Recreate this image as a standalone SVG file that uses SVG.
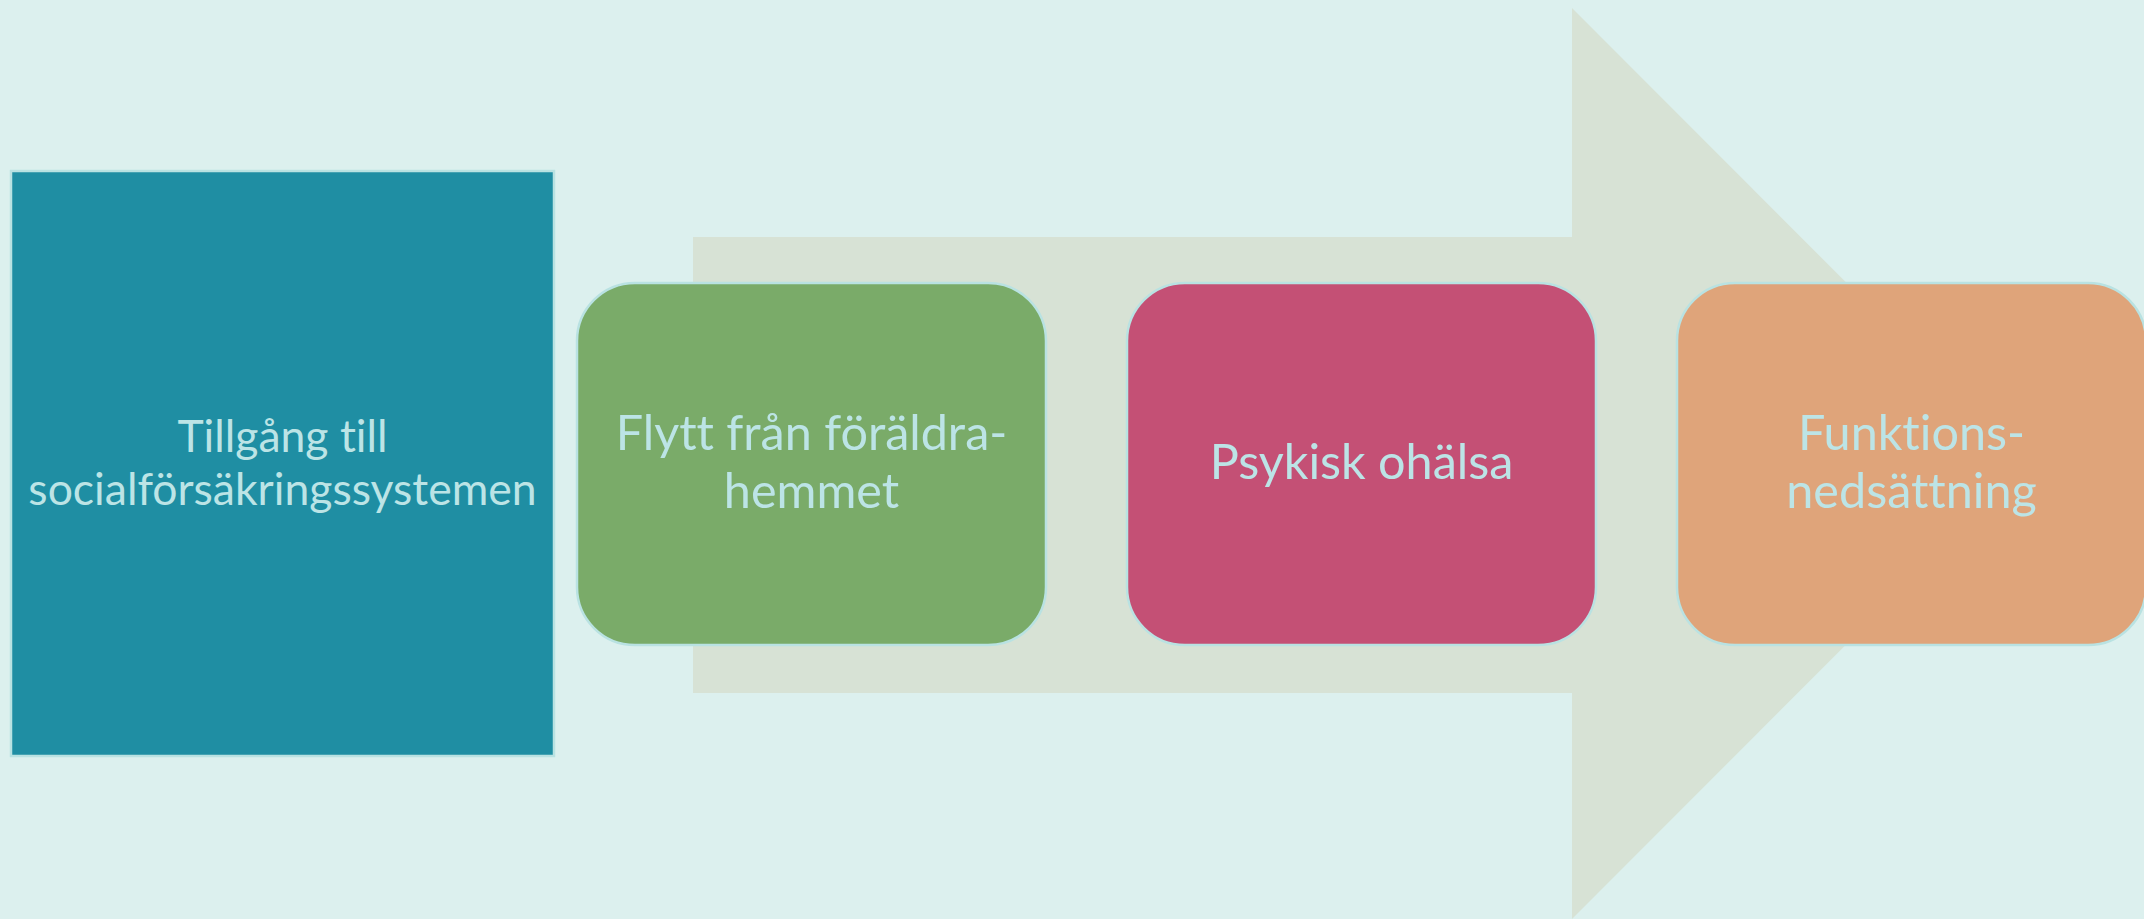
<svg xmlns="http://www.w3.org/2000/svg" width="2144" height="919" viewBox="0 0 2144 919">
<style>
.bg{fill:#dcf0ee}
.arrow{fill:#d7e2d5}
.box{stroke:#b9e2e2;stroke-width:2.5}
.t{font-family:Lato,"Liberation Sans",sans-serif;fill:#bce4e6;text-anchor:middle;font-variant-ligatures:none;font-feature-settings:"liga" 0}
.big{font-size:48.5px}
.mid{font-size:44.5px}
</style>
<rect class="bg" x="0" y="0" width="2144" height="919"/>
<g id="connectors">
<polygon class="arrow" points="693,237 1572,237 1572,8 2027,463.5 1572,919 1572,693 693,693"/>
</g>
<g id="n1">
<rect class="box" x="11" y="171" width="543" height="585" fill="#1f8ea3"/>
<text class="t mid" x="282.5" y="452">Tillgång till</text>
<text class="t mid" x="282.5" y="505">socialförsäkringssystemen</text>
</g>
<g id="n2">
<rect class="box" x="577" y="283" width="469" height="362" rx="58" ry="58" fill="#7aab69"/>
<text class="t big" x="811.5" y="450">Flytt från föräldra-</text>
<text class="t big" x="811.5" y="508">hemmet</text>
</g>
<g id="n3">
<rect class="box" x="1127" y="283" width="469" height="362" rx="58" ry="58" fill="#c45075"/>
<text class="t big" x="1361.5" y="479">Psykisk ohälsa</text>
</g>
<g id="n4">
<rect class="box" x="1677" y="283" width="469" height="362" rx="58" ry="58" fill="#dfa47a"/>
<text class="t big" x="1911.5" y="450">Funktions-</text>
<text class="t big" x="1911.5" y="508">nedsättning</text>
</g>
</svg>
